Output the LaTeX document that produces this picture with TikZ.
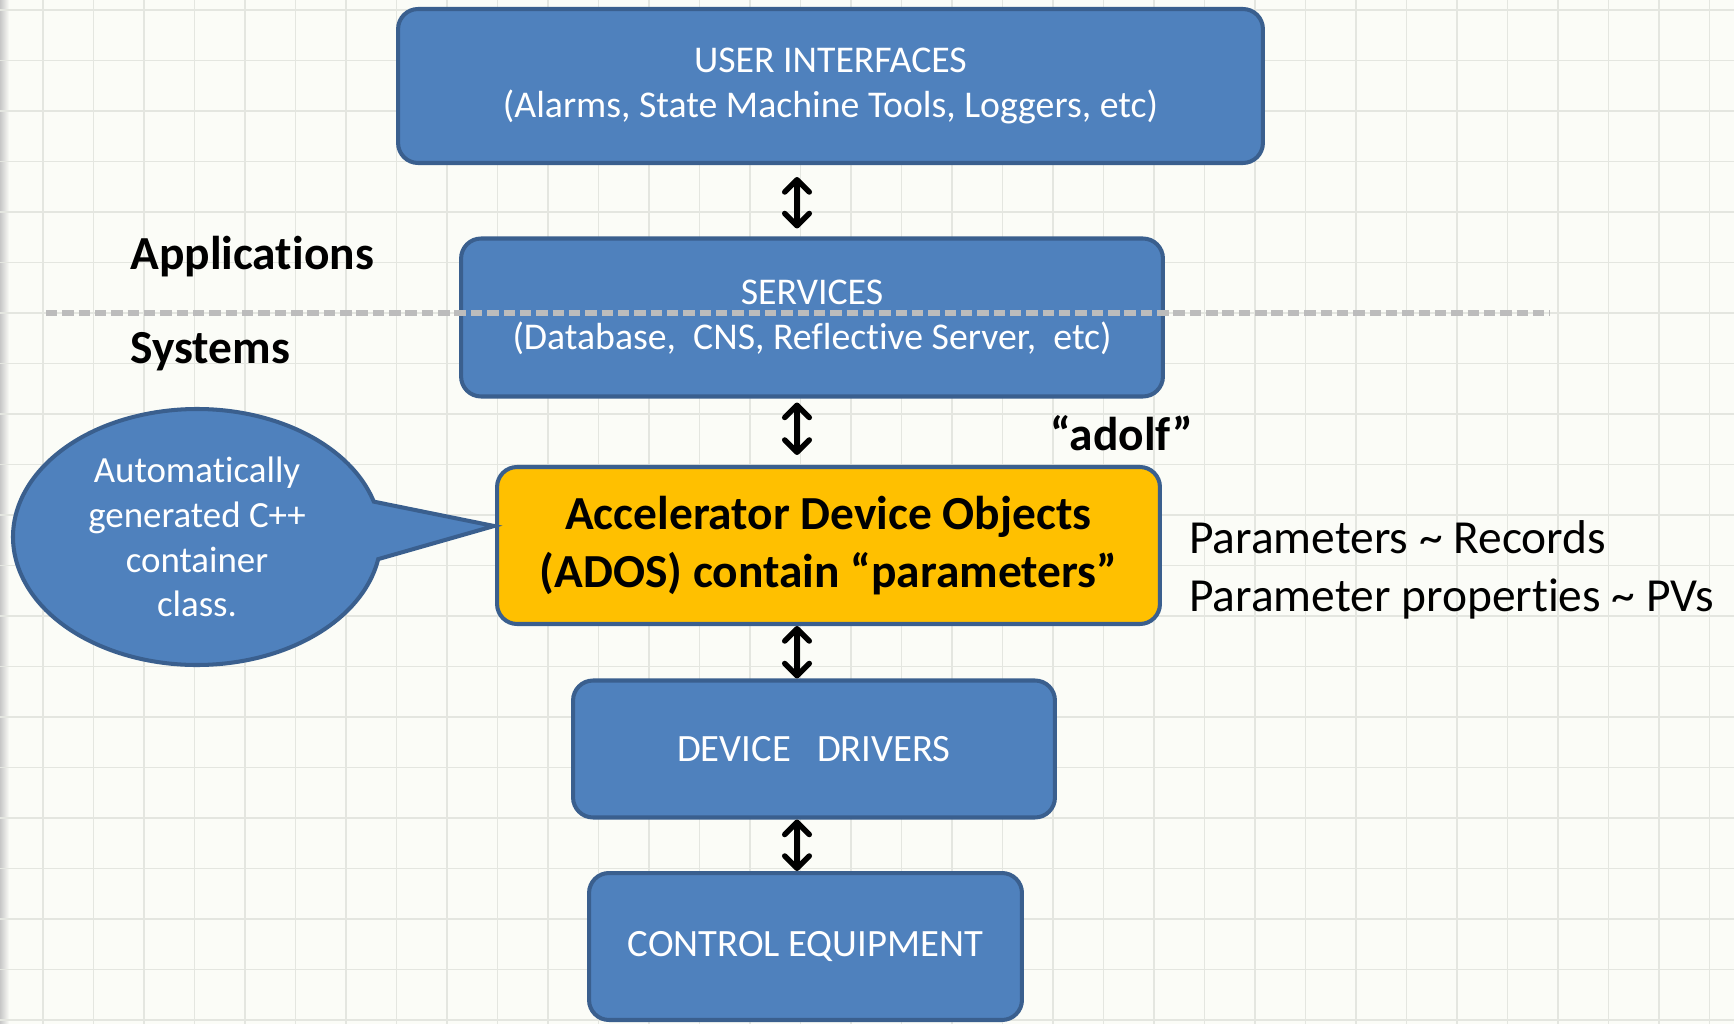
\documentclass[tikz,border=0pt]{standalone}
\usepackage{fontspec}
\setmainfont{Carlito}[Ligatures={NoCommon,NoContextual,NoRequired}]
\usetikzlibrary{arrows.meta,shapes.callouts,positioning}
\definecolor{fondo}{HTML}{FBFCF7}
\definecolor{rejilla}{HTML}{E4E6E0}
\definecolor{azul}{HTML}{4F81BD}
\definecolor{borde}{HTML}{3A5F8E}
\definecolor{amarillo}{HTML}{FFC000}
\definecolor{gris}{HTML}{BCBCBC}
\tikzset{
    capa/.style={rectangle,rounded corners=0.4cm,draw=borde,line width=2.3pt,fill=azul,text=white,align=center,font=\fontsize{21.5}{26}\selectfont},
    capabaja/.style={capa,font=\fontsize{22}{26}\selectfont},
    capaados/.style={capa,fill=amarillo,text=black,font=\fontsize{27}{33}\selectfont\bfseries},
    doble/.style={draw,line width=3.1pt,{Straight Barb[length=7pt,width=14pt,round]}-{Straight Barb[length=7pt,width=14pt,round]}},
    separador/.style={draw=gris,line width=3pt,dash pattern=on 6.5pt off 2.8pt},
    etiqueta/.style={anchor=west,inner sep=0pt,font=\fontsize{27}{33}\selectfont\bfseries},
    nota/.style={anchor=west,inner sep=0pt,align=left,font=\fontsize{27}{33}\selectfont},
    globo/.style={ellipse callout,draw=borde,line width=2.3pt,fill=azul,text=white,align=center,inner sep=0pt,font=\fontsize{21}{25.5}\selectfont},
}
\begin{document}
\begin{tikzpicture}[x=0.02cm,y=-0.02cm]
\fill[fondo] (0,0) rectangle (1734,1024);
\useasboundingbox (0,0) rectangle (1734,1024);
\fill[left color=black!22,right color=fondo] (0,0) rectangle (9,1024);
\foreach \gx in {43,93.5,...,1734} \draw[rejilla,line width=0.9pt] (\gx,0) -- (\gx,1024);
\foreach \gy in {10,60.5,...,1024} \draw[rejilla,line width=0.9pt] (0,\gy) -- (1734,\gy);

% capas
\node[capa,minimum width=17.3cm,minimum height=3.08cm] (ui) at (830.5,86) {USER INTERFACES\\(Alarms, State Machine Tools, Loggers, etc)};
\node[capa,minimum width=14.04cm,minimum height=3.16cm,below=1.43cm of ui,xshift=-0.37cm] (svc) {SERVICES\\(Database,\ \ CNS, Reflective Server,\ \ etc)};
\node[capaados,minimum width=13.26cm,minimum height=3.14cm,below=1.33cm of svc,xshift=0.33cm] (ados) {Accelerator Device Objects\\(ADOS) contain “parameters”};
\node[capabaja,minimum width=9.64cm,minimum height=2.74cm,below=1.05cm of ados,xshift=-0.29cm] (drv) {DEVICE\ \ \ DRIVERS};
\node[capabaja,minimum width=8.66cm,minimum height=2.94cm,below=1.03cm of drv,xshift=-0.17cm] (ctrl) {CONTROL EQUIPMENT};

% flechas
\coordinate (eje) at (797,0);
\draw[doble,shorten <=0.24cm,shorten >=0.16cm] (ui.south -| eje) -- (svc.north -| eje);
\draw[doble,shorten <=0.08cm,shorten >=0.2cm] (svc.south -| eje) -- (ados.north -| eje);
\draw[doble] (ados.south -| eje) -- (drv.north -| eje);
\draw[doble] (drv.south -| eje) -- (ctrl.north -| eje);

% separador
\coordinate (sepizq) at (46,313);
\coordinate (sepder) at (1550,313);
\draw[separador] (sepizq) -- (sepder);

\node[etiqueta] (apps) at (130,257) {Applications};
\node[etiqueta] (sist) at (130,352) {Systems};
\node[etiqueta,anchor=center] (adolf) at (1122,433) {“adolf”};
\node[nota,right=0.54cm of ados.east,yshift=-0.48cm] (params) {Parameters \textasciitilde{} Records\\Parameter properties \textasciitilde{} PVs};

% globo
\coordinate (punta) at (494,526);
\node[globo,minimum width=7.36cm,minimum height=5.12cm,callout absolute pointer={(punta)},callout pointer arc=26] (auto) at (197,537) {Automatically\\generated C++\\container\\class.};
\end{tikzpicture}
\end{document}
